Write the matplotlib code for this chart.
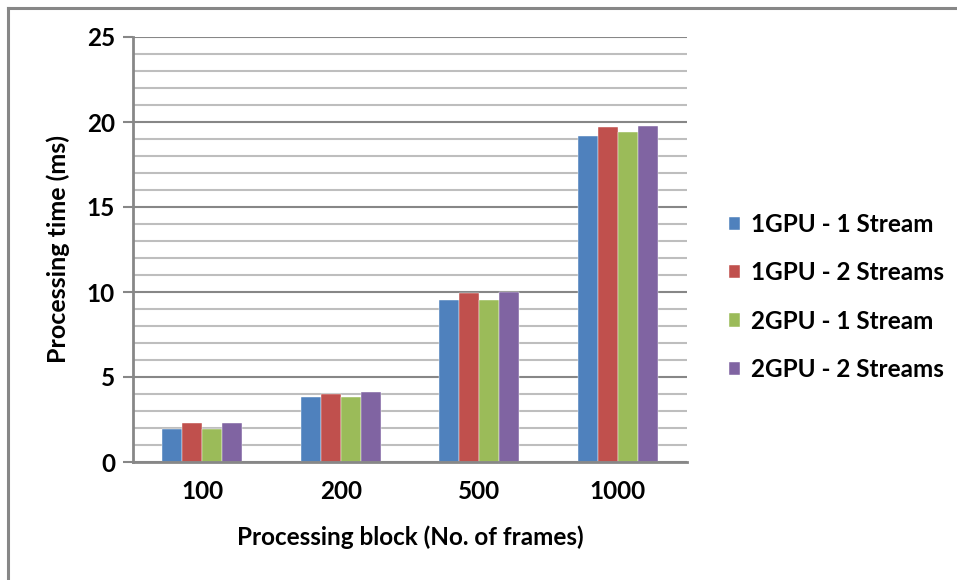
import numpy as np
import matplotlib.pyplot as plt
from matplotlib.lines import Line2D

plt.rcParams['font.family'] = ['Lato', 'DejaVu Sans']
plt.rcParams['font.weight'] = 'bold'

blocks = ['100', '200', '500', '1000']
series_names = ['1GPU - 1 Stream', '1GPU - 2 Streams', '2GPU - 1 Stream', '2GPU - 2 Streams']
gpu1_stream1 = [1.95, 3.82, 9.53, 19.18]
gpu1_stream2 = [2.27, 4.02, 9.94, 19.69]
gpu2_stream1 = [1.96, 3.84, 9.53, 19.43]
gpu2_stream2 = [2.27, 4.14, 9.98, 19.75]
colors = ['#4F81BD', '#C0504D', '#9BBB59', '#8064A2']

W, H = 957, 580
fig = plt.figure(figsize=(W / 100, H / 100), dpi=100)

# chart frame (top and left edge only)
fig.add_artist(Line2D([8 / W, 1], [1 - 8 / H, 1 - 8 / H], color='#878787', lw=2.2))
fig.add_artist(Line2D([8 / W, 8 / W], [0, 1 - 8 / H], color='#878787', lw=2.2))

ax = fig.add_axes([133 / W, (H - 462) / H, (687 - 133) / W, (462 - 37) / H])

x = np.arange(len(blocks))
bw = 0.145
all_series = [gpu1_stream1, gpu1_stream2, gpu2_stream1, gpu2_stream2]
for i, (vals, name, c) in enumerate(zip(all_series, series_names, colors)):
    ax.bar(x + (i - 1.5) * bw, vals, bw, color=c, label=name, zorder=3,
           edgecolor='white', linewidth=0.3)

ax.set_xlim(-0.5, 3.5)
ax.set_ylim(0, 25)
ax.set_yticks(np.arange(0, 26, 5))
ax.set_yticks(np.arange(0, 26, 1), minor=True)
ax.grid(True, axis='y', which='minor', color='#BEBEBE', lw=1.5, zorder=0)
ax.grid(True, axis='y', which='major', color='#878787', lw=1.5, zorder=1)
ax.set_xticks(x)
ax.set_xticklabels(blocks)
ax.tick_params(axis='x', length=0, pad=13, labelsize=17.5)
ax.tick_params(axis='y', which='major', length=7, width=1.5, color='#878787',
               pad=6, labelsize=17.5)
ax.tick_params(axis='y', which='minor', length=0)
for s in ['top', 'right']:
    ax.spines[s].set_visible(False)
for s in ['left', 'bottom']:
    ax.spines[s].set_color('#878787')
    ax.spines[s].set_linewidth(2)
    ax.spines[s].set_zorder(4)

fig.text(58 / W, 1 - 249 / H, 'Processing time (ms)', rotation=90, ha='center',
         va='center', fontsize=18, fontweight='bold')
ax.set_xlabel('Processing block (No. of frames)', fontsize=17.5, fontweight='bold', labelpad=16)

fig.legend(loc='center left', bbox_to_anchor=(710 / W, 1 - 297 / H), frameon=False,
           fontsize=17.5, handlelength=0.45, handleheight=0.45, handletextpad=0.45,
           labelspacing=1.04, borderpad=0.3)

fig.savefig('out.png', dpi=100)
